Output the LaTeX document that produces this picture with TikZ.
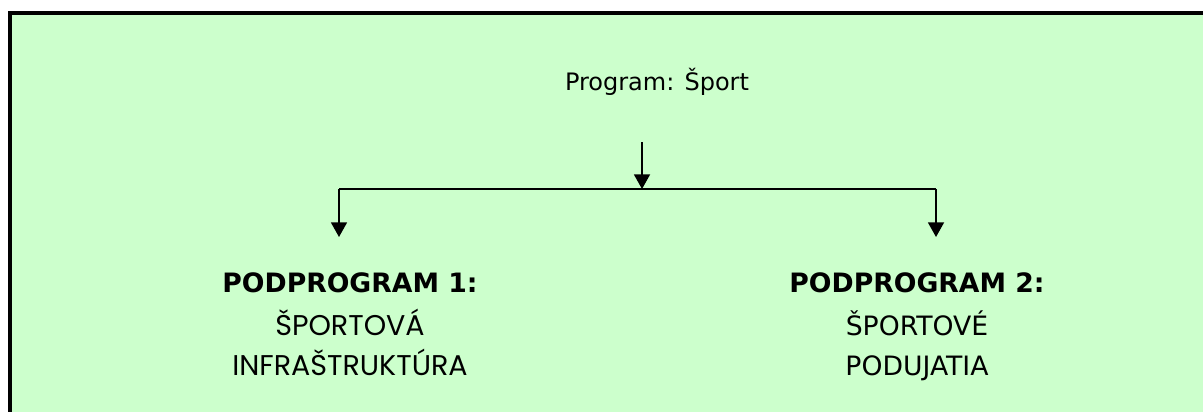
\documentclass[tikz,border=0pt]{standalone}
\usepackage{fontspec}
\setmainfont{DejaVu Sans}
\newfontfamily\gothicfont{Poppins}
\usetikzlibrary{arrows.meta}
\definecolor{panelgreen}{HTML}{CCFFCC}
\tikzset{
  headtext/.style={font=\fontsize{18}{20}\selectfont, anchor=base, inner sep=0pt},
  subtitle/.style={font=\bfseries\fontsize{20}{22}\selectfont, anchor=base, inner sep=0pt},
  subgothic/.style={font=\gothicfont\fontsize{21.4}{24}\selectfont, anchor=base, inner sep=0pt},
  subplain/.style={font=\fontsize{20}{22}\selectfont, anchor=base, inner sep=0pt},
  link/.style={line width=1.3pt},
  flow/.style={link, -{Triangle[length=11pt,width=12pt]}},
}
\begin{document}
\begin{tikzpicture}[x=0.75pt,y=-0.75pt]
  \useasboundingbox (0,0) rectangle (1203,411);
  \clip (0,0) rectangle (1203,411);
  % panel
  \fill[white] (0,0) rectangle (1203,411);
  \draw[line width=3pt, fill=panelgreen] (10,13) rectangle (1230,440);

  % program
  \node[headtext] (prog) at (657,90) {Program: Šport};
  \coordinate (stem) at (642,142);
  \coordinate (split) at (642,189);
  \coordinate (left) at (339,189);
  \coordinate (right) at (936,189);
  \coordinate (lefttip) at (339,237);
  \coordinate (righttip) at (936,237);

  % subprogram 1
  \node[subtitle] (sub1) at (350,292) {PODPROGRAM 1:};
  \node[subgothic] (sub1a) at (350,335) {ŠPORTOVÁ};
  \node[subgothic] (sub1b) at (350,375) {INFRAŠTRUKTÚRA};

  % subprogram 2
  \node[subtitle] (sub2) at (917,292) {PODPROGRAM 2:};
  \node[subplain] (sub2a) at (917,335) {ŠPORTOVÉ};
  \node[subplain] (sub2b) at (917,375) {PODUJATIA};

  \draw[flow] (stem) -- (split);
  \draw[link] (left) -- (right);
  \draw[flow] (left) -- (lefttip);
  \draw[flow] (right) -- (righttip);
\end{tikzpicture}
\end{document}
